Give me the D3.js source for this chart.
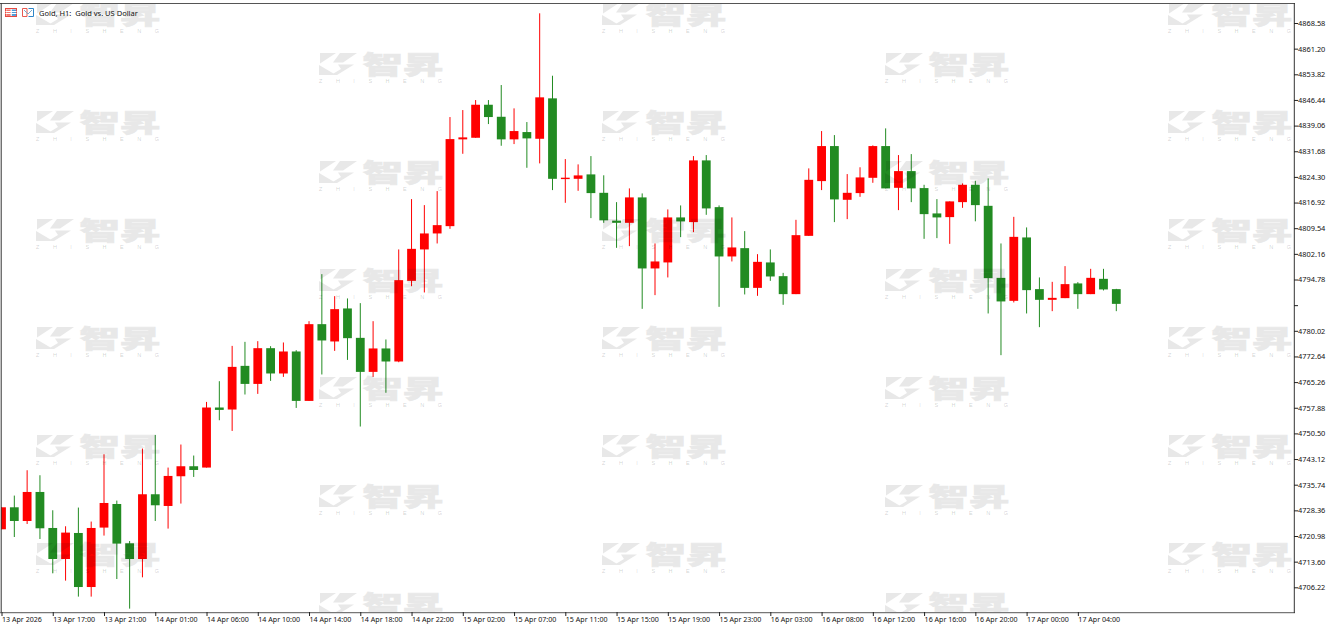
<!DOCTYPE html>
<html><head><meta charset="utf-8">
<script src="https://cdn.jsdelivr.net/npm/d3@7/dist/d3.min.js"></script>
<style>
html,body{margin:0;padding:0;background:#fff;overflow:hidden}
svg{display:block}
text{font-family:"Noto Sans","Liberation Sans",sans-serif}
</style></head><body><svg id="c" width="1326" height="628"></svg>
<script>
const title = "Gold, H1:  Gold vs. US Dollar";
const priceTicks = [4868.58,4861.20,4853.82,4846.44,4839.06,4831.68,4824.30,4816.92,4809.54,4802.16,4794.78,4787.40,4780.02,4772.64,4765.26,4757.88,4750.50,4743.12,4735.74,4728.36,4720.98,4713.60,4706.22];
const hiddenPriceLabels = [4787.40];
const timeLabels = ["13 Apr 2026","13 Apr 17:00","13 Apr 21:00","14 Apr 01:00","14 Apr 06:00","14 Apr 10:00","14 Apr 14:00","14 Apr 18:00","14 Apr 22:00","15 Apr 02:00","15 Apr 07:00","15 Apr 11:00","15 Apr 15:00","15 Apr 19:00","15 Apr 23:00","16 Apr 03:00","16 Apr 08:00","16 Apr 12:00","16 Apr 16:00","16 Apr 20:00","17 Apr 00:00","17 Apr 04:00"];
const opens = [4722.91,4729.24,4725.30,4733.65,4723.29,4714.36,4721.85,4706.30,4723.40,4730.19,4718.88,4714.36,4732.99,4729.62,4738.17,4741.05,4740.67,4757.95,4757.37,4769.93,4764.74,4775.02,4767.74,4774.07,4759.85,4781.93,4776.95,4786.45,4777.99,4768.20,4774.94,4771.19,4794.39,4803.43,4808.03,4810.13,4835.10,4835.56,4845.06,4841.60,4835.10,4837.20,4835.27,4846.90,4823.90,4823.75,4825.02,4819.72,4811.72,4811.09,4818.40,4797.96,4799.69,4812.64,4811.29,4829.05,4815.60,4801.41,4803.80,4792.37,4799.69,4795.74,4790.57,4807.34,4823.09,4833.17,4817.71,4819.64,4824.04,4833.17,4821.16,4825.97,4821.08,4813.79,4812.73,4817.04,4822.03,4815.98,4795.25,4788.64,4806.88,4792.01,4788.93,4789.42,4793.65,4790.57,4794.97,4792.01];
const highs = [4729.24,4732.61,4739.90,4738.46,4728.38,4723.78,4729.16,4725.13,4744.50,4731.17,4719.54,4746.14,4750.06,4740.67,4747.30,4744.13,4759.56,4765.52,4775.68,4776.84,4777.04,4775.60,4776.66,4774.45,4782.79,4796.32,4789.99,4789.33,4787.98,4782.79,4777.53,4803.43,4817.91,4816.18,4820.21,4841.52,4843.53,4846.41,4846.41,4850.73,4844.02,4840.08,4871.37,4853.41,4829.43,4827.90,4830.29,4824.76,4817.04,4820.99,4819.55,4805.15,4814.94,4816.09,4830.29,4830.58,4816.09,4812.64,4808.70,4802.07,4803.43,4796.69,4811.95,4826.75,4837.49,4836.33,4825.11,4827.07,4833.37,4838.26,4830.58,4830.86,4822.03,4817.91,4817.25,4822.43,4823.18,4823.87,4805.15,4812.81,4809.76,4795.37,4794.11,4798.63,4794.02,4797.85,4797.85,4792.09];
const lows = [4722.91,4720.69,4724.44,4720.12,4710.24,4708.14,4703.54,4703.54,4721.10,4708.60,4700.08,4709.09,4725.30,4723.11,4730.31,4737.97,4740.67,4754.29,4751.21,4761.69,4761.87,4765.61,4766.76,4757.83,4759.85,4767.45,4774.24,4771.65,4752.48,4766.76,4762.19,4770.98,4792.86,4791.05,4805.15,4809.36,4830.95,4835.56,4839.50,4833.26,4833.74,4826.92,4828.19,4820.50,4816.84,4820.30,4812.44,4811.09,4803.89,4804.38,4786.34,4790.28,4795.37,4806.97,4808.41,4813.39,4786.91,4799.97,4790.48,4790.08,4794.39,4787.49,4790.57,4807.34,4820.50,4811.29,4812.15,4818.57,4822.60,4820.99,4814.74,4817.04,4806.48,4806.68,4805.04,4815.40,4811.52,4785.01,4773.01,4788.18,4785.01,4781.07,4785.67,4789.42,4786.34,4790.57,4791.63,4785.67];
const closes = [4729.24,4725.30,4733.65,4723.20,4714.36,4721.96,4706.30,4723.29,4730.48,4718.79,4714.36,4732.99,4729.82,4738.26,4741.05,4739.98,4757.95,4757.26,4769.64,4764.74,4775.02,4767.74,4774.07,4759.85,4781.93,4777.24,4786.25,4777.90,4768.20,4774.94,4771.19,4794.59,4803.60,4808.03,4810.42,4835.18,4835.67,4845.06,4841.52,4835.10,4837.49,4835.38,4847.19,4823.75,4824.07,4824.73,4819.64,4811.80,4811.09,4818.40,4797.96,4799.97,4812.64,4811.49,4829.05,4815.23,4801.41,4804.00,4792.37,4799.86,4795.65,4790.57,4807.54,4823.46,4833.17,4817.82,4819.72,4824.15,4833.17,4820.99,4825.97,4820.99,4813.59,4812.64,4817.25,4822.03,4816.18,4795.17,4788.47,4807.05,4791.72,4788.93,4789.50,4793.45,4790.57,4795.26,4791.92,4787.77];
const upColor = "#ff0000", downColor = "#228b22";

const svg = d3.select("#c");
const W = 1294, L = 1, T = 4, B = 612;
const x = d3.scaleLinear().domain([0, opens.length - 1]).range([1.5, 1116.3]);
const y = d3.scaleLinear().domain([priceTicks[0], priceTicks[priceTicks.length - 1]]).range([23, 587.3]);
const bars = d3.range(opens.length).map(i => ({i, o: opens[i], h: highs[i], l: lows[i], c: closes[i]}));

svg.append("defs").append("clipPath").attr("id", "plot").append("rect")
  .attr("x", L).attr("y", T).attr("width", W - L).attr("height", B - T);
const plot = svg.append("g").attr("clip-path", "url(#plot)");

// candles
const colr = d => d.c >= d.o ? upColor : downColor;
const candle = plot.append("g").selectAll("g").data(bars).join("g");
candle.append("line")
  .attr("x1", d => x(d.i)).attr("x2", d => x(d.i))
  .attr("y1", d => y(d.h)).attr("y2", d => y(d.l))
  .attr("stroke", colr).attr("stroke-width", 1);
candle.append("rect")
  .attr("x", d => x(d.i) - 4.4).attr("width", 8.8)
  .attr("y", d => y(Math.max(d.o, d.c)))
  .attr("height", d => Math.max(1.4, Math.abs(y(d.o) - y(d.c))))
  .attr("fill", colr);

// watermark tiles, laid over the candles
const wmCols = [36, 319, 602, 885, 1168];
wmCols.forEach((cx, ci) => {
  const rows = d3.range(6).map(r => (ci % 2 ? 53 : 3) + r * 108);
  rows.forEach(ry => {
    const g = plot.append("g").attr("transform", `translate(${cx},${ry})`);
    const mark = g.append("g").attr("opacity", 0.085);
    mark.append("path").attr("d", "M0,0H17L1,10.5V0ZM0,12L17,22H0Z");
    mark.append("path").attr("d", "M21,0H38L24,9.5H14ZM19,11.5H35L18,22H12L22,16Z");
    mark.append("text").attr("transform", "translate(43.5,21) scale(1.62,1)")
      .attr("font-size", 25).attr("font-weight", 900).attr("stroke", "#000").attr("stroke-width", 0.7)
      .style("font-family", '"Noto Sans CJK SC"').text("智昇");
    if (ry + 31 < B) {
      g.append("text").attr("x", 0).attr("y", 30.2).attr("font-size", 5.5)
        .attr("fill", "rgba(0,0,0,0.2)").attr("textLength", 123).attr("lengthAdjust", "spacing")
        .style("font-family", '"Liberation Sans"').text("ZHISHENG");
    }
  });
});

// frame
svg.append("line").attr("x1", 0).attr("x2", W + 1).attr("y1", 3.5).attr("y2", 3.5).attr("stroke", "#555").attr("stroke-width", 1.2);
svg.append("line").attr("x1", 1.2).attr("x2", 1.2).attr("y1", 3).attr("y2", B + 1).attr("stroke", "#333").attr("stroke-width", 1);
svg.append("line").attr("x1", 0).attr("x2", W + 1).attr("y1", 612.6).attr("y2", 612.6).attr("stroke", "#777").attr("stroke-width", 1.2);

// axes
const yAxis = d3.axisRight(y).tickValues(priceTicks).tickSize(4).tickPadding(0).tickSizeOuter(0)
  .tickFormat(d => hiddenPriceLabels.includes(d) ? "" : d.toFixed(2));
const ya = svg.append("g").attr("transform", `translate(${W},0)`).call(yAxis);
ya.select(".domain").attr("stroke", "#333").attr("d", `M0.3,3V613`);
ya.selectAll(".tick line").attr("stroke", "#222");
ya.selectAll("text").attr("fill", "#111").attr("font-size", 7.4).attr("x", 4).style("font-family", '"Noto Sans"');

const timeTicks = timeLabels.map((_, k) => k * 4);
const xAxis = d3.axisBottom(x).tickValues(timeTicks).tickSize(4).tickPadding(0).tickSizeOuter(0)
  .tickFormat((d, k) => timeLabels[k]);
const xa = svg.append("g").attr("transform", `translate(0,${B})`).call(xAxis);
xa.select(".domain").remove();
xa.selectAll(".tick line").attr("stroke", "#222");
xa.selectAll("text").attr("fill", "#111").attr("font-size", 7.1).attr("text-anchor", "start")
  .attr("x", 0).attr("y", 8).attr("dy", "0.32em").style("font-family", '"Noto Sans"');

// title and icons
svg.append("text").attr("x", 39).attr("y", 15.8).attr("font-size", 7.5).attr("fill", "#111")
  .style("white-space", "pre").style("font-family", '"Noto Sans"').text(title);
const ic = svg.append("g");
ic.append("rect").attr("x", 5.5).attr("y", 8.5).attr("width", 11).attr("height", 8).attr("fill", "#fff").attr("stroke", "#e8483f");
[5.5, 11].forEach(v => ic.append("rect").attr("x", v + 0.8).attr("y", 9.5).attr("width", 4.3).attr("height", 6.4).attr("fill", v < 6 ? "#f0756d" : "#4a9bd8"));
[11.5, 13.5].forEach(v => ic.append("line").attr("x1", 5.5).attr("x2", 16.5).attr("y1", v).attr("y2", v).attr("stroke", "#fff"));
ic.append("path").attr("d", "M22.5,8.5H27V16.5H22.5Z").attr("fill", "#fff").attr("stroke", "#e8584f");
ic.append("path").attr("d", "M28.5,8.5H33.5V16.5H28.5").attr("fill", "#fff").attr("stroke", "#2f86c8");
ic.append("path").attr("d", "M24,10L28,14L32,10").attr("fill", "none").attr("stroke", "#7aa8c8");
</script></body></html>
